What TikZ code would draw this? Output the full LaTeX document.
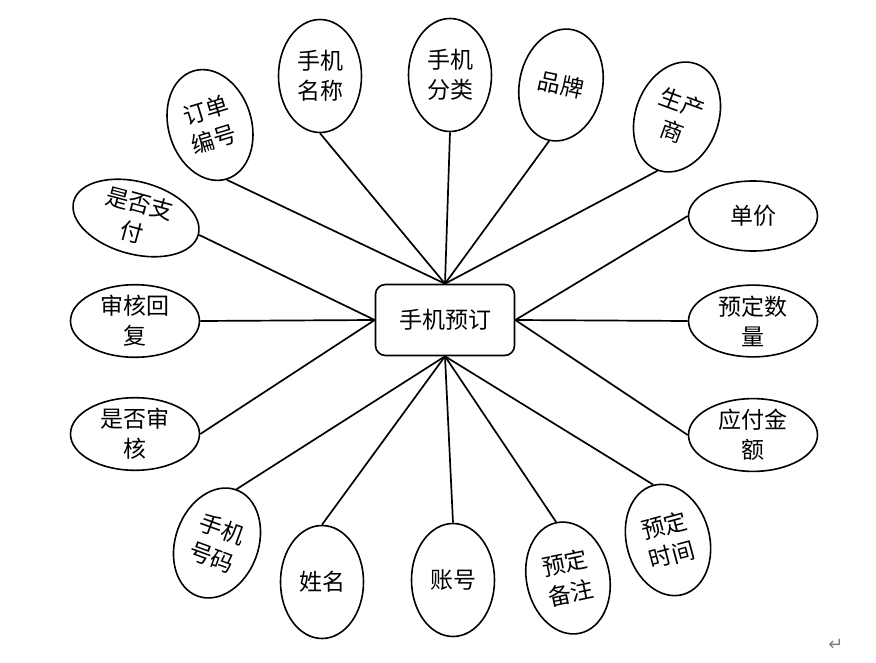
\documentclass[tikz,border=0pt]{standalone}
\usepackage{fontspec}
\usepackage{tikz}
\usetikzlibrary{shapes.geometric}
\newfontfamily\cjk{Noto Sans CJK SC}
\newfontfamily\symfont{DejaVu Sans}

\begin{document}
\begin{tikzpicture}[x=1pt,y=-1pt,
    attr/.style={draw, ellipse, line width=1.6pt, inner sep=0pt, align=center,
                 font=\cjk\fontsize{23}{30}\selectfont},
    tall/.style={attr, minimum width=83pt, minimum height=113pt},
    wide/.style={attr, minimum width=129pt, minimum height=70pt},
    link/.style={line width=1.7pt}]
  \useasboundingbox (0,0) rectangle (876,663);
  \node[draw, rounded corners=10pt, line width=1.6pt, minimum width=139pt, minimum height=71pt,
        font=\cjk\fontsize{23}{28}\selectfont] (hub) at (445,320) {手机预订};

  % attributes, clockwise from upper left
  \node[tall, rotate=17]  (ordno)   at (210,125) {订单\\编号};
  \node[tall]             (pname)   at (320,76)  {手机\\名称};
  \node[tall]             (ptype)   at (450,75)  {手机\\分类};
  \node[tall, rotate=-12] (brand)   at (561,85)  {品牌};
  \node[tall, rotate=-20] (maker)   at (677,117) {生产\\商};
  \node[wide]             (price)   at (753,216) {单价};
  \node[wide]             (qty)     at (753,321) {预定数\\量};
  \node[wide]             (payable) at (753,435) {应付金\\额};
  \node[tall, rotate=15]  (rtime)   at (668,540) {预定\\时间};
  \node[tall, rotate=12]  (remark)  at (568,578) {预定\\备注};
  \node[tall]             (account) at (453,580) {账号};
  \node[tall]             (uname)   at (322,582) {姓名};
  \node[tall, rotate=-20] (phone)   at (217,543) {手机\\号码};
  \node[wide]             (audited) at (135,434) {是否审\\核};
  \node[wide]             (reply)   at (135,321) {审核回\\复};
  \node[wide, rotate=-15] (paid)    at (136,218) {是否支\\付};

  \foreach \a in {ordno,pname,ptype,brand,maker}
    \draw[link] (\a.south) -- (hub.north);
  \foreach \a in {price,qty,payable}
    \draw[link] (\a.west) -- (hub.east);
  \foreach \a in {rtime,remark,account,uname,phone}
    \draw[link] (\a.north) -- (hub.south);
  \foreach \a in {audited,reply,paid}
    \draw[link] (\a.east) -- (hub.west);

  \node[font=\symfont\fontsize{18}{18}\selectfont, text=gray] (paramark) at (836,645) {↵};
\end{tikzpicture}
\end{document}
